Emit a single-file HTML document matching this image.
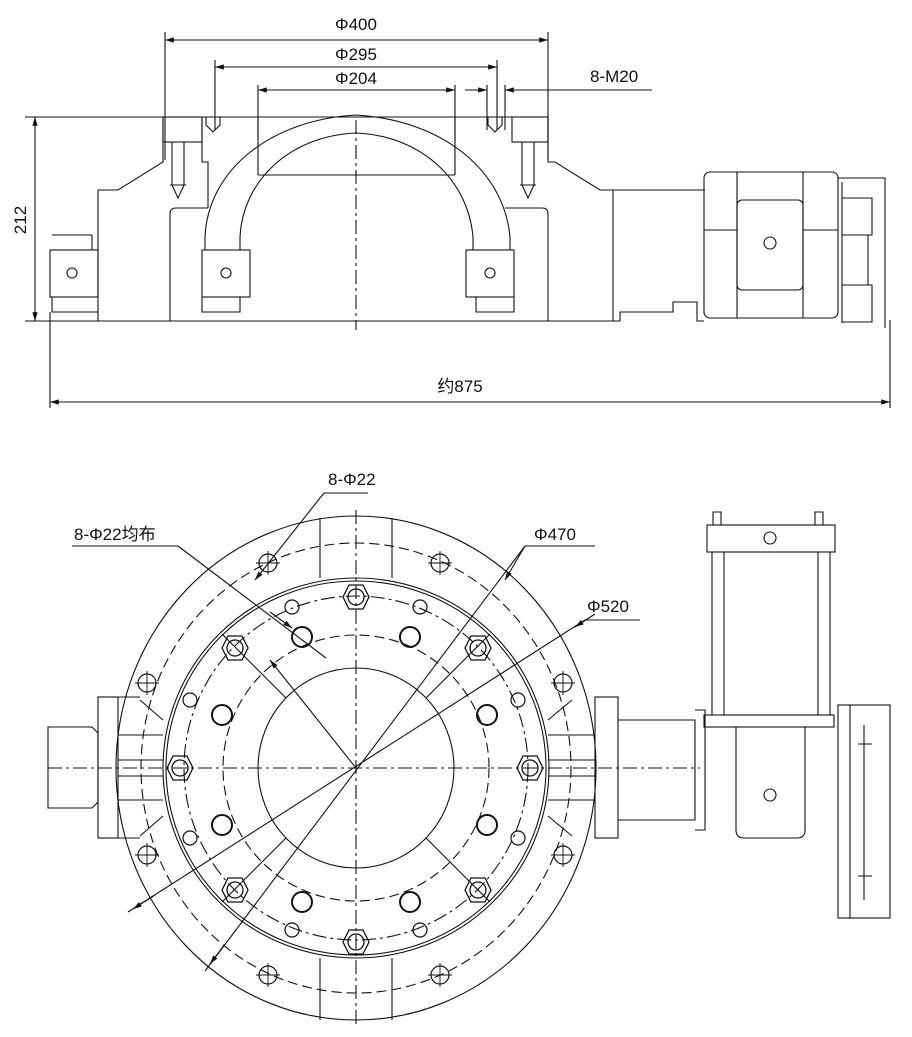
<!DOCTYPE html>
<html><head><meta charset="utf-8"><style>html,body{margin:0;padding:0;background:#fff}svg{display:block}text{font-family:"Liberation Sans","Noto Sans CJK SC",sans-serif;fill:#111}</style></head>
<body>
<svg width="912" height="1037" viewBox="0 0 912 1037" xmlns="http://www.w3.org/2000/svg">
<defs>
<marker id="a" viewBox="0 0 10 10" refX="10" refY="5" markerWidth="8" markerHeight="8" orient="auto-start-reverse"><path d="M0,2 L10,5 L0,8 z" fill="#111"/></marker>
<g id="hex"><polygon points="-13,0 -7,-12 7,-12 13,0 7,12 -7,12" fill="none" stroke="#111" stroke-width="1.3"/><circle r="8" fill="none" stroke="#111" stroke-width="1.3"/></g>
<g id="ob"><circle r="9" fill="none" stroke="#111" stroke-width="1.2"/><path d="M-12,0H12M0,-12V12" stroke="#111" stroke-width="0.9"/></g>
</defs>
<g fill="none" stroke="#111" stroke-width="1.1">
<!-- top dimensions -->
<path d="M165,32V160M548,32V160M215,60V130M497,60V130M258,85V140M455,85V140M487,85V130M505,85V130"/>
<line x1="165" y1="40" x2="548" y2="40" marker-start="url(#a)" marker-end="url(#a)"/>
<line x1="215" y1="67" x2="497" y2="67" marker-start="url(#a)" marker-end="url(#a)"/>
<line x1="258" y1="90" x2="455" y2="90" marker-start="url(#a)" marker-end="url(#a)"/>
<line x1="465" y1="90" x2="487" y2="90" marker-end="url(#a)"/>
<line x1="652" y1="90" x2="505" y2="90" marker-end="url(#a)"/>
<path d="M25,117H548"/>
<line x1="35" y1="117" x2="35" y2="321" marker-start="url(#a)" marker-end="url(#a)"/>
<line x1="50" y1="402" x2="890" y2="402" marker-start="url(#a)" marker-end="url(#a)"/>
<path d="M50,312V408M890,320V408"/>
<!-- top body -->
<path d="M25,321H620"/>
<path d="M98,321V190H118L163,162V117M202,117V162H208V208M548,117V162L555,162L600,190H613V321M613,190H705"/>
<path d="M613,321H620V312H673V302H697V321H704"/>
<path d="M170,321V214Q170,208,176,208H208M505,208H542Q548,208,548,214V321"/>
<rect x="163" y="117" width="39" height="25"/><rect x="512" y="117" width="36" height="25"/>
<path d="M172,142V185L178,198L184,185V142M522,142V185L528,198L534,185V142M170,185H186M520,185H536"/>
<path d="M206,117V125L213,132L220,125V117M488,117V125L495,132L502,125V117"/>
<path d="M205,250V237C208,170,270,120,356,115C442,120,504,170,510,237V250M240,250V237C243,180,290,136,356,133C422,136,468,180,473,237V250M258,175H455M258,117V175M455,117V175"/>
<rect x="202" y="250" width="48" height="47"/><path d="M202,297V312H240V297"/>
<rect x="466" y="250" width="48" height="47"/><path d="M476,297V312H514V297"/>
<circle cx="226" cy="273" r="5"/><circle cx="490" cy="273" r="5"/>
<rect x="50" y="250" width="48" height="47"/><path d="M52,235H92V250M52,297V312H98"/><circle cx="72" cy="273" r="5"/>
<rect x="704" y="172" width="134" height="146" rx="6"/>
<path d="M737,172V318M803,172V318M704,230H737M803,230H838"/><rect x="737" y="200" width="66" height="90" rx="5"/><circle cx="770" cy="243" r="6"/>
<path d="M838,178H885V328M842,182V323"/>
<path d="M842,198H872V235H842M842,235H868V285H842M842,285H872V322H842"/>
<path d="M356,120V330" stroke-dasharray="14 4 3 4"/>
<!-- bottom view -->
<ellipse cx="356" cy="768" rx="240" ry="252"/>
<ellipse cx="356" cy="768" rx="215" ry="225" stroke-dasharray="10 5"/>
<ellipse cx="356" cy="768" rx="193" ry="190"/><ellipse cx="356" cy="768" rx="190" ry="187"/>
<circle cx="356" cy="768" r="172" stroke-dasharray="14 4 3 4"/>
<circle cx="356" cy="768" r="133" stroke-dasharray="10 5"/>
<ellipse cx="356" cy="768" rx="98" ry="100"/>
<path d="M320,518V578M392,518V578M320,958V1020M392,958V1020"/>
<path d="M48,768H700M356,510V1025" stroke-dasharray="14 4 3 4"/>
<path d="M286,698L222,634M426,698L490,634M286,838L222,902M426,838L490,902"/>
<path d="M140,700L163,720M140,836L163,816M572,700L548,720M572,836L548,816"/>
<rect x="98" y="697" width="20" height="141"/><path d="M118,697H140M118,838H140M118,735H163M118,800H163M118,760H163M118,776H163"/>
<path d="M48,727H92L98,733V802L92,808H48Z"/>
<rect x="595" y="697" width="23" height="141"/><path d="M548,735H595M548,800H595M548,760H595M548,776H595"/>
<path d="M618,720H695V820H618M695,710H705V830H695"/>
<rect x="707" y="525" width="128" height="27"/><circle cx="770" cy="538" r="6"/>
<path d="M712,552V715M724,552V715M818,552V715M830,552V715"/>
<rect x="704" y="715" width="130" height="12"/>
<path d="M736,727V830Q736,838,744,838H797Q805,838,805,830V727"/><circle cx="770" cy="795" r="6"/>
<rect x="838" y="705" width="52" height="213"/><path d="M850,705V918M864,725V900" /><path d="M858,744H872M858,876H872"/>
<path d="M713,512h8v13h-8zM815,512h8v13h-8z"/>
<!-- leaders -->
<path d="M324,493H368"/><line x1="324" y1="493" x2="255" y2="580" marker-end="url(#a)"/>
<path d="M72,546H178"/><line x1="178" y1="546" x2="326" y2="658"/><line x1="270" y1="612" x2="292" y2="628" marker-end="url(#a)"/>
<path d="M525,546H595"/><line x1="525" y1="546" x2="205" y2="971"/>
<line x1="525" y1="546" x2="505" y2="580" marker-end="url(#a)"/><line x1="225" y1="944" x2="210" y2="964" marker-end="url(#a)"/>
<path d="M585,620H640"/><line x1="585" y1="620" x2="128" y2="912"/>
<line x1="595" y1="614" x2="575" y2="627" marker-end="url(#a)"/><line x1="155" y1="895" x2="133" y2="909" marker-end="url(#a)"/>
<line x1="356" y1="768" x2="270" y2="660" marker-end="url(#a)"/>
</g>
<g>
<use href="#hex" x="356" y="597"/><use href="#hex" x="235" y="648"/><use href="#hex" x="478" y="648"/><use href="#hex" x="180" y="768"/><use href="#hex" x="530" y="768"/><use href="#hex" x="235" y="890"/><use href="#hex" x="478" y="890"/><use href="#hex" x="356" y="942"/>
<use href="#ob" x="268" y="563"/><use href="#ob" x="440" y="563"/><use href="#ob" x="147" y="683"/><use href="#ob" x="563" y="683"/><use href="#ob" x="147" y="855"/><use href="#ob" x="563" y="855"/><use href="#ob" x="268" y="975"/><use href="#ob" x="440" y="975"/>
</g>
<g fill="none" stroke="#111" stroke-width="2">
<circle cx="302" cy="637" r="10"/><circle cx="410" cy="637" r="10"/><circle cx="222" cy="715" r="10"/><circle cx="487" cy="715" r="10"/><circle cx="222" cy="825" r="10"/><circle cx="487" cy="825" r="10"/><circle cx="302" cy="902" r="10"/><circle cx="410" cy="902" r="10"/>
</g>
<g fill="none" stroke="#111" stroke-width="1.2">
<circle cx="292" cy="607" r="7"/><circle cx="420" cy="607" r="7"/><circle cx="190" cy="700" r="7"/><circle cx="518" cy="700" r="7"/><circle cx="190" cy="838" r="7"/><circle cx="518" cy="838" r="7"/><circle cx="292" cy="930" r="7"/><circle cx="420" cy="930" r="7"/>
</g>
<text x="356" y="30" font-size="17" text-anchor="middle">Φ400</text>
<text x="356" y="60" font-size="17" text-anchor="middle">Φ295</text>
<text x="356" y="84" font-size="17" text-anchor="middle">Φ204</text>
<text x="590" y="82" font-size="17">8-M20</text>
<text x="26" y="220" font-size="17" text-anchor="middle" transform="rotate(-90 26 220)">212</text>
<text x="460" y="392" font-size="17" text-anchor="middle">约875</text>
<text x="328" y="485" font-size="17">8-Φ22</text>
<text x="74" y="540" font-size="17">8-Φ22均布</text>
<text x="534" y="540" font-size="17">Φ470</text>
<text x="587" y="612" font-size="17">Φ520</text>
</svg>
</body></html>
